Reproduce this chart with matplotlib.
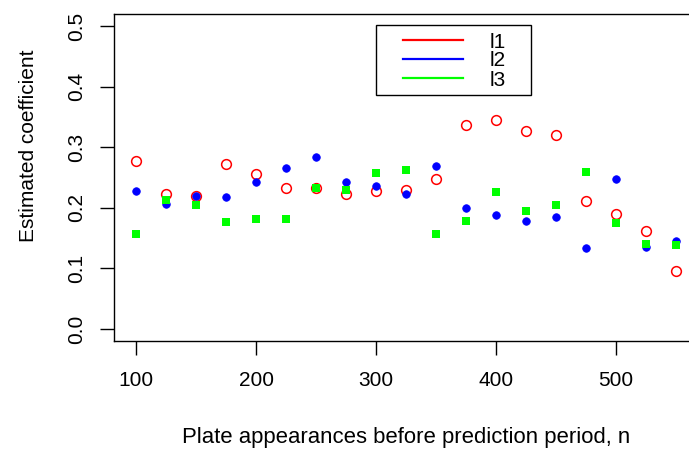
import matplotlib
matplotlib.use("Agg")
import matplotlib.pyplot as plt
from matplotlib.lines import Line2D
from matplotlib.patches import Rectangle

n = [100, 125, 150, 175, 200, 225, 250, 275, 300, 325, 350, 375, 400, 425, 450, 475, 500, 525, 550]
l1 = [0.277, 0.223, 0.220, 0.272, 0.256, 0.232, 0.233, 0.223, 0.228, 0.230, 0.248, 0.336, 0.345, 0.327, 0.320, 0.211, 0.189, 0.161, 0.096]
l2 = [0.228, 0.207, 0.219, 0.217, 0.243, 0.266, 0.284, 0.243, 0.236, 0.222, 0.269, 0.200, 0.188, 0.178, 0.184, 0.134, 0.248, 0.136, 0.145]
l3 = [0.156, 0.213, 0.205, 0.176, 0.182, 0.182, 0.232, 0.229, 0.258, 0.262, 0.156, 0.178, 0.226, 0.195, 0.204, 0.259, 0.175, 0.140, 0.138]
labels = ["l1", "l2", "l3"]
xticks = [100, 200, 300, 400, 500]
yticks = [0.0, 0.1, 0.2, 0.3, 0.4, 0.5]

plt.rcParams['font.family'] = ['Liberation Sans', 'DejaVu Sans']
FS = 15

fig = plt.figure(figsize=(6.89, 4.51), dpi=100)
ax = fig.add_axes([114.4 / 689, (451 - 341) / 451, 583.2 / 689, 327 / 451])

ax.plot(n, l1, linestyle='none', marker='o', ms=7.0, mfc='none', mec='#FF0000', mew=1.1, clip_on=False)
ax.plot(n, l2, linestyle='none', marker='o', ms=5.4, mfc='#0000FF', mec='#0000FF', mew=0.6, clip_on=False)
ax.plot(n, l3, linestyle='none', marker='s', ms=5.1, mfc='#00FF00', mec='#00FF00', mew=0, clip_on=False)

ax.set_xlim(82, 568)
ax.set_ylim(-0.02, 0.52)
ax.set_xticks(xticks)
ax.set_xticklabels([str(t) for t in xticks])
ax.set_yticks(yticks)
ax.set_yticklabels([f"{t:.1f}" for t in yticks], rotation=90, va='center')

for s in ax.spines.values():
    s.set_linewidth(1.0)
    s.set_color('black')
ax.tick_params(axis='both', direction='out', length=10, width=1.0, labelsize=FS, colors='black')
ax.tick_params(axis='x', pad=11.5)
ax.tick_params(axis='y', pad=10)

ax.set_xlabel("Plate appearances before prediction period, n", fontsize=15.9)
ax.set_ylabel("Estimated coefficient", fontsize=FS)
ax.xaxis.set_label_coords(0.5, (341 - 437) / 327)
ax.xaxis.label.set_va('center')
ax.yaxis.set_label_coords((28 - 114.4) / 583.2, (341 - 146) / 327)
ax.yaxis.label.set_va('center')
ax.yaxis.label.set_ha('center')

# legend frame
ax.add_patch(Rectangle(((376 - 114.4) / 583.2, (341 - 95) / 327), (530.7 - 376) / 583.2, 70 / 327,
                       transform=ax.transAxes, fill=False, edgecolor='black', linewidth=1.0, zorder=5))
handles = [Line2D([], [], color=c, lw=1.6) for c in ['#FF0000', '#0000FF', '#00FF00']]
leg = ax.legend(handles, labels, loc='center left',
                bbox_to_anchor=((403 - 114.4) / 583.2, (341 - 61) / 327),
                frameon=False, fontsize=FS, borderpad=0, borderaxespad=0,
                handlelength=2.88, handletextpad=1.3, labelspacing=0.0)

fig.savefig("out.png", dpi=100)
